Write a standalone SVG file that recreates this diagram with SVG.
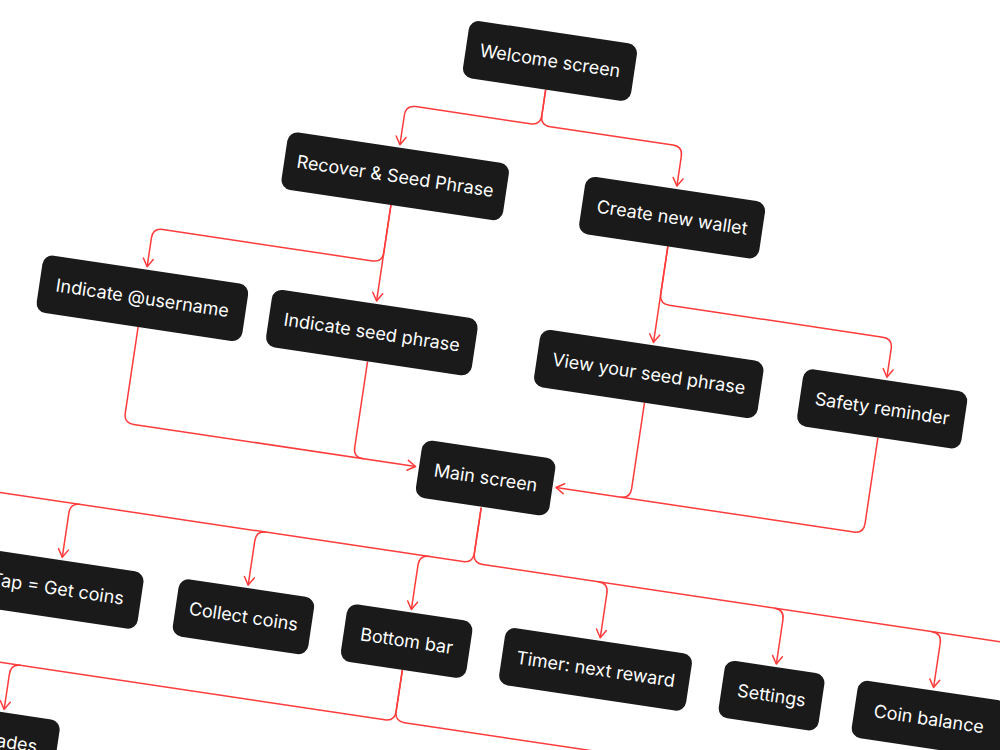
<svg xmlns="http://www.w3.org/2000/svg" width="1000" height="750" viewBox="0 0 1000 750">
<defs>
<style>
.node rect{fill:#1a1a1a;}
.node text{fill:#ffffff;font-family:Inter,"Noto Sans","Liberation Sans",sans-serif;font-size:18px;text-anchor:middle;}
.edge{fill:none;stroke:#ff3b3b;stroke-width:1.5;stroke-linejoin:round;}
.arr{marker-end:url(#ah);}
</style>
<marker id="ah" viewBox="-10 -7 12 14" markerWidth="12" markerHeight="14" refX="0" refY="0" orient="auto" markerUnits="userSpaceOnUse">
<path d="M-8,-5 L0,0 L-8,5" fill="none" stroke="#ff3b3b" stroke-width="1.5" stroke-linecap="round" stroke-linejoin="round"/>
</marker>
</defs>
<rect width="1000" height="750" fill="#ffffff"/>
<g transform="rotate(8.5 500 375)">
<g id="connectors">
<path class="edge arr" d="M503,86 V112 Q503,122 493,122 H377 Q367,122 367,132 V162"/>
<path class="edge arr" d="M503,86 V112 Q503,122 513,122 H637 Q647,122 647,132 V162"/>
<path class="edge arr" d="M367,223 V320"/>
<path class="edge arr" d="M367,223 V271 Q367,281 357,281 H145 Q135,281 135,291 V320"/>
<path class="edge arr" d="M647,223 V320"/>
<path class="edge arr" d="M647,223 V271 Q647,281 657,281 H873 Q883,281 883,291 V320"/>
<path class="edge arr" d="M135,381 V468 Q135,478 145,478 H430"/>
<path class="edge" d="M367,381 V468 Q367,478 377,478"/>
<path class="edge arr" d="M883,381 V468 Q883,478 873,478 H572"/>
<path class="edge" d="M647,381 V468 Q647,478 637,478"/>
<path class="edge" d="M501,509 V555 Q501,565 491,565 H-150"/>
<path class="edge" d="M501,509 V555 Q501,565 511,565 H1200"/>
<path class="edge arr" d="M104,565 Q94,565 94,575 V620"/>
<path class="edge arr" d="M292,565 Q282,565 282,575 V620"/>
<path class="edge arr" d="M457,565 Q447,565 447,575 V620"/>
<path class="edge arr" d="M628,565 Q638,565 638,575 V620"/>
<path class="edge arr" d="M806,565 Q816,565 816,575 V620"/>
<path class="edge arr" d="M965,565 Q975,565 975,575 V620"/>
<path class="edge" d="M447,681 V723 Q447,733 437,733 H-150"/>
<path class="edge" d="M447,681 V723 Q447,733 457,733 H1200"/>
<path class="edge arr" d="M69,733 Q59,733 59,743 V779"/>
</g>
<g id="n-welcome" class="node"><rect x="418" y="28" width="170" height="58" rx="10"/><text x="503" y="63">Welcome screen</text></g>
<g id="n-recover" class="node"><rect x="255" y="165" width="224" height="58" rx="10"/><text x="367" y="200">Recover &amp; Seed Phrase</text></g>
<g id="n-create" class="node"><rect x="556" y="165" width="182" height="58" rx="10"/><text x="647" y="200">Create new wallet</text></g>
<g id="n-username" class="node"><rect x="31" y="323" width="208" height="58" rx="10"/><text x="135" y="358">Indicate @username</text></g>
<g id="n-seed" class="node"><rect x="263" y="323" width="208" height="58" rx="10"/><text x="367" y="358">Indicate seed phrase</text></g>
<g id="n-view" class="node"><rect x="534" y="323" width="226" height="58" rx="10"/><text x="647" y="358">View your seed phrase</text></g>
<g id="n-safety" class="node"><rect x="800" y="323" width="166" height="58" rx="10"/><text x="883" y="358">Safety reminder</text></g>
<g id="n-main" class="node"><rect x="433.5" y="450" width="135" height="58" rx="10"/><text x="501" y="485">Main screen</text></g>
<g id="n-tap" class="node"><rect x="10" y="623" width="168" height="58" rx="10"/><text x="94" y="658">Tap = Get coins</text></g>
<g id="n-collect" class="node"><rect x="213.5" y="623" width="137" height="58" rx="10"/><text x="282" y="658">Collect coins</text></g>
<g id="n-bottombar" class="node"><rect x="383.5" y="623" width="127" height="58" rx="10"/><text x="447" y="658">Bottom bar</text></g>
<g id="n-timer" class="node"><rect x="543.5" y="623" width="189" height="58" rx="10"/><text x="638" y="658">Timer: next reward</text></g>
<g id="n-settings" class="node"><rect x="765.5" y="623" width="101" height="58" rx="10"/><text x="816" y="658">Settings</text></g>
<g id="n-coin" class="node"><rect x="900" y="623" width="150" height="58" rx="10"/><text x="975" y="658">Coin balance</text></g>
<g id="n-ades" class="node"><rect x="1" y="782" width="116" height="58" rx="10"/><text x="97" y="817" style="text-anchor:end">ades</text></g>
</g>
</svg>
